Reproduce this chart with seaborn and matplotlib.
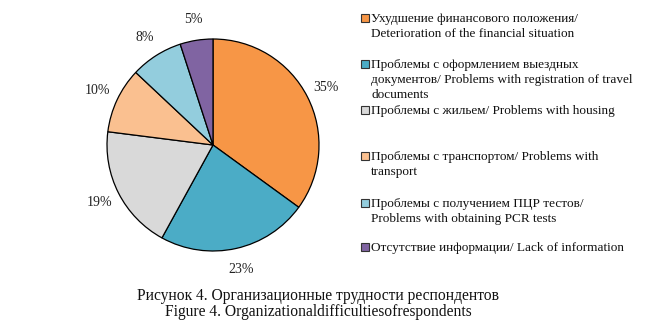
import matplotlib
matplotlib.use("Agg")
import matplotlib.pyplot as plt
from matplotlib.patches import Rectangle
import seaborn as sns

labels = [
    "Ухудшение финансового положения/\nDeterioration of the financial situation",
    "Проблемы с оформлением выездных\nдокументов/ Problems with registration of travel\ndocuments",
    "Проблемы с жильем/ Problems with housing",
    "Проблемы с транспортом/ Problems with\ntransport",
    "Проблемы с получением ПЦР тестов/\nProblems with obtaining PCR tests",
    "Отсутствие информации/ Lack of information",
]
values = [35, 23, 19, 10, 8, 5]
colors = ["#F79646", "#4BACC6", "#D9D9D9", "#FAC090", "#93CDDD", "#8064A2"]
caption = ["Рисунок 4. Организационные трудности респондентов",
           "Figure 4. Organizationaldifficultiesofrespondents"]

sns.set_style("white")
plt.rcParams['font.family'] = ['Liberation Serif', 'DejaVu Serif']
sns.set_palette(colors)

W, H = 665, 325
fig = plt.figure(figsize=(W / 100, H / 100), dpi=100)
fig.patch.set_facecolor("white")

cx, cy, r = 213, 145, 106
ax = fig.add_axes([(cx - r) / W, (H - cy - r) / H, 2 * r / W, 2 * r / H])
wedges, texts, autotexts = ax.pie(
    values, colors=sns.color_palette(colors), startangle=90, counterclock=False,
    autopct=lambda p: f"{p:.0f}%", pctdistance=1.2,
    wedgeprops=dict(edgecolor="black", linewidth=0.9),
    textprops=dict(fontsize=10, color="#222222"))
ax.set_xlim(-1, 1)
ax.set_ylim(-1, 1)
ax.set_aspect("equal")
ax.axis("off")

# legend (each line placed on its own baseline)
line_centers = [18, 64, 110, 156, 203, 247]
tx, mx, ms, lstep = 371, 361, 7.5, 15
for lab, col, yc in zip(labels, colors, line_centers):
    for i, line in enumerate(lab.split("\n")):
        fig.text(tx / W, 1 - (yc + 4 + i * lstep) / H, line, ha="left",
                 va="baseline", fontsize=9.5, color="#111111")
    fig.add_artist(Rectangle((mx / W, 1 - (yc + ms / 2) / H), ms / W, ms / H,
                             transform=fig.transFigure, facecolor=col,
                             edgecolor="#333333", linewidth=0.8))

fig.text(318 / W, 1 - 296 / H, caption[0], ha="center", va="center",
         fontsize=11.2, color="#111111")
fig.text(318 / W, 1 - 312 / H, caption[1], ha="center", va="center",
         fontsize=11.2, color="#111111")

fig.savefig("out.png", dpi=100, facecolor="white")
